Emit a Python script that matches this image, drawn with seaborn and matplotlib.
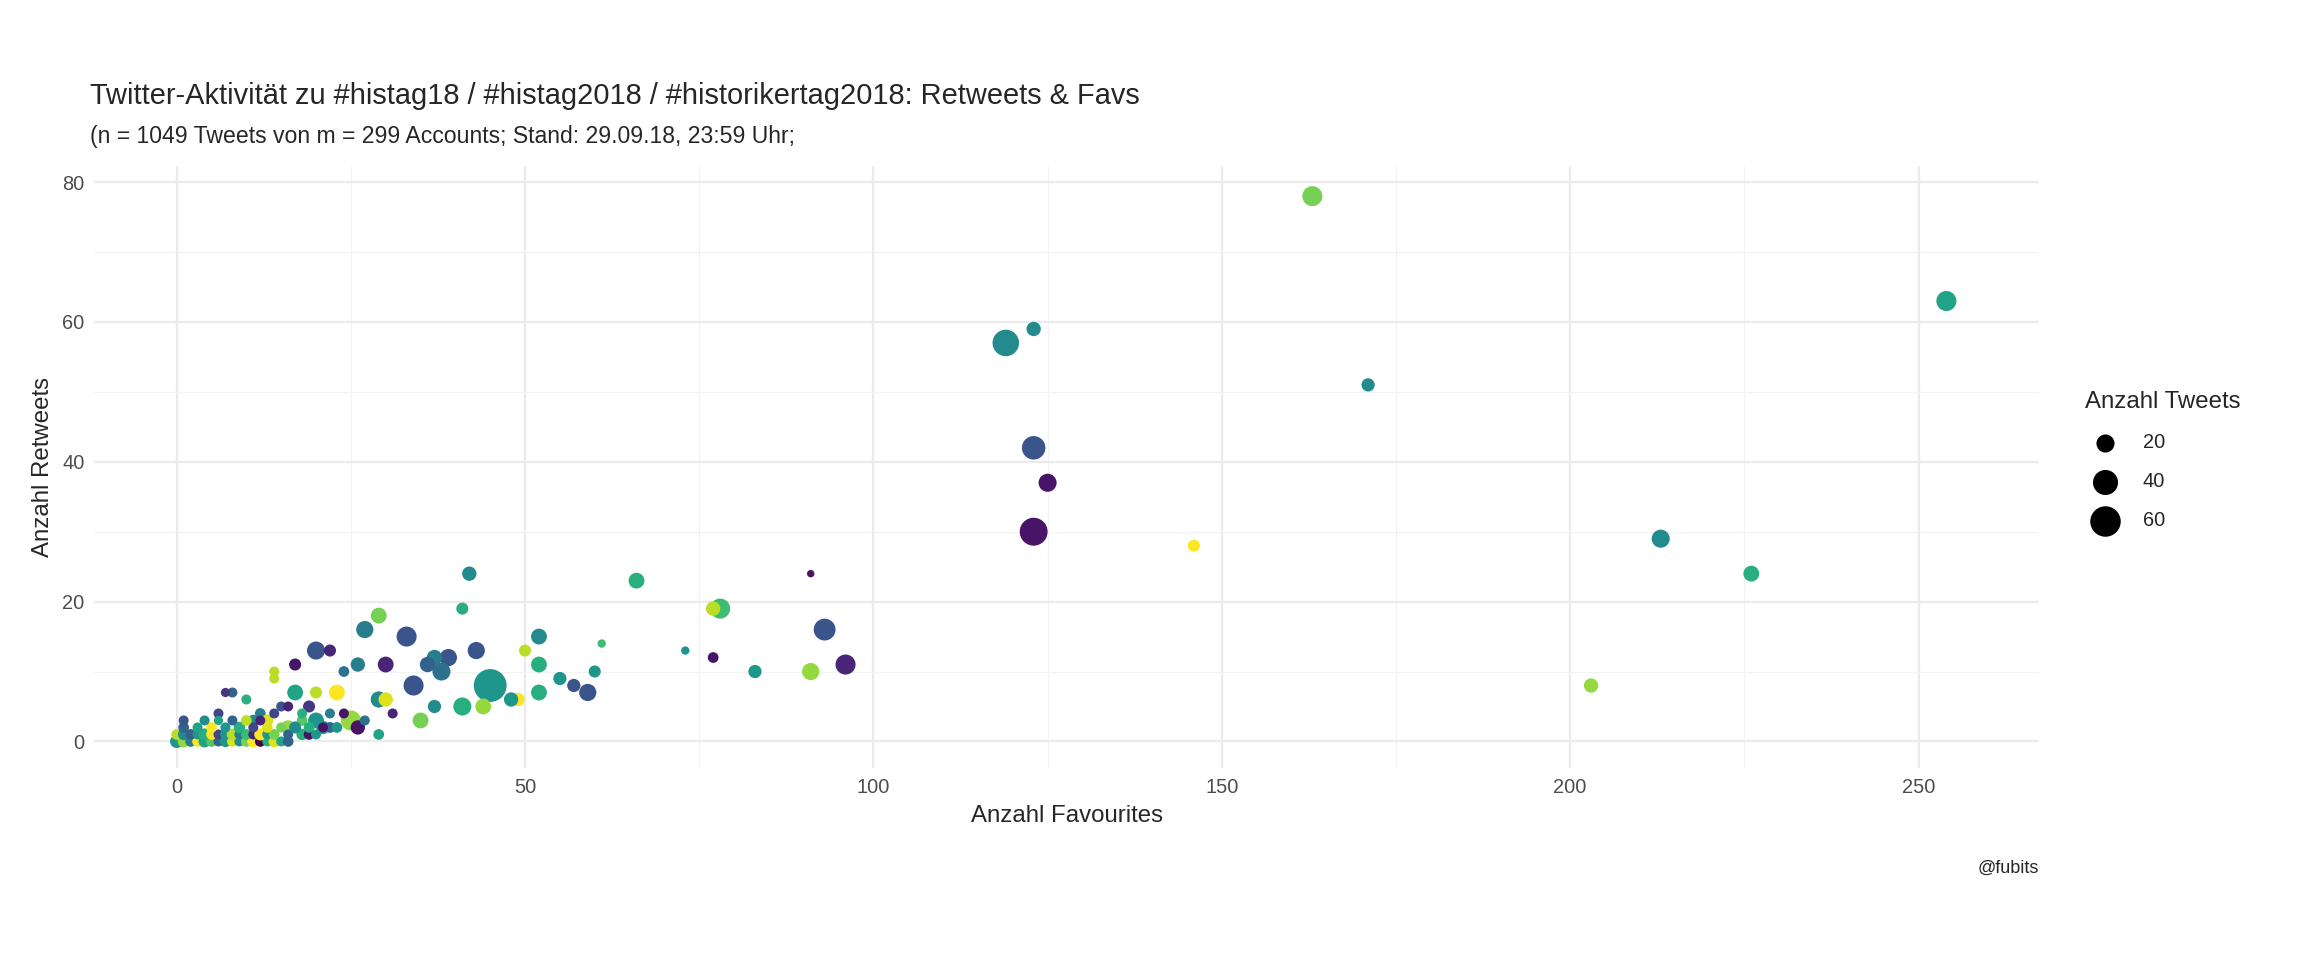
import numpy as np
import pandas as pd
import matplotlib
matplotlib.use("Agg")
import matplotlib.pyplot as plt
import seaborn as sns
from matplotlib.ticker import MultipleLocator

# favourites, retweets, tweet count, account colour (0..1 on viridis)
favs = [163, 254, 123, 119, 171, 123, 125, 123, 146, 213, 226, 203,
        91, 96, 93, 83, 77, 78, 77, 91, 73, 66, 61, 60, 59, 57, 55, 52, 52, 52,
        50, 49, 48, 45, 44, 42, 41, 41, 43, 39, 38, 37, 36, 37, 34, 33, 35, 30,
        29, 29, 27, 26, 29, 30, 25, 26, 29, 20, 22, 17, 17, 20, 23, 24, 20, 16,
        14, 14, 15, 16, 12, 10, 8, 7, 6, 13, 18, 21, 19, 9, 11, 22, 24,
        0, 1, 2, 3, 4, 5, 6, 7, 8, 9, 10, 11, 12, 13, 14, 15, 16,
        0, 1, 2, 3, 4, 5, 6, 7, 8, 9, 10, 11, 12, 13, 14, 16, 18, 19, 20,
        1, 3, 5, 7, 9, 11, 13, 15, 17, 19, 21, 23,
        1, 4, 6, 8, 10, 12, 14, 18, 22, 27, 31]
rts = [78, 63, 59, 57, 51, 42, 37, 30, 28, 29, 24, 8,
       24, 11, 16, 10, 12, 19, 19, 10, 13, 23, 14, 10, 7, 8, 9, 15, 11, 7,
       13, 6, 6, 8, 5, 24, 19, 5, 13, 12, 10, 12, 11, 5, 8, 15, 3, 11,
       18, 6, 16, 11, 6, 6, 3, 2, 1, 13, 13, 11, 7, 7, 7, 10, 3, 2,
       10, 9, 5, 5, 4, 6, 7, 7, 4, 3, 3, 2, 5, 2, 3, 2, 4,
       0, 0, 0, 0, 0, 0, 0, 0, 0, 0, 0, 0, 0, 0, 0, 0, 0,
       1, 1, 1, 1, 1, 1, 1, 1, 1, 1, 1, 1, 1, 1, 1, 1, 1, 1, 1,
       2, 2, 2, 2, 2, 2, 2, 2, 2, 2, 2, 2,
       3, 3, 3, 3, 3, 3, 4, 4, 4, 3, 4]
tweets = [25, 25, 12, 45, 10, 35, 20, 50, 8, 20, 15, 12,
          2, 25, 30, 10, 6, 25, 12, 18, 3, 15, 3, 8, 18, 10, 10, 15, 15, 15,
          8, 10, 12, 70, 15, 12, 8, 20, 18, 18, 20, 14, 14, 10, 25, 25, 15, 15,
          15, 15, 18, 12, 15, 12, 25, 12, 6, 20, 8, 8, 15, 8, 15, 6, 15, 12,
          5, 5, 5, 5, 6, 5, 5, 4, 5, 8, 6, 10, 8, 6, 7, 6, 5,
          10, 8, 6, 6, 8, 6, 5, 7, 6, 5, 6, 8, 6, 5, 7, 5, 6,
          6, 7, 6, 5, 8, 6, 5, 6, 7, 5, 6, 5, 8, 5, 6, 5, 7, 6, 5,
          6, 5, 6, 5, 7, 5, 6, 5, 8, 6, 5, 6,
          5, 5, 4, 5, 6, 5, 5, 5, 5, 5, 5]
col = [0.75, 0.55, 0.45, 0.45, 0.45, 0.25, 0.05, 0.05, 0.95, 0.45, 0.6, 0.8,
       0.05, 0.1, 0.25, 0.5, 0.05, 0.65, 0.85, 0.8, 0.5, 0.6, 0.65, 0.5, 0.25, 0.25, 0.5, 0.45, 0.6, 0.6,
       0.85, 0.95, 0.5, 0.5, 0.8, 0.45, 0.6, 0.6, 0.25, 0.25, 0.35, 0.4, 0.3, 0.45, 0.25, 0.25, 0.75, 0.1,
       0.75, 0.45, 0.4, 0.4, 0.45, 0.9, 0.8, 0.05, 0.55, 0.25, 0.1, 0.05, 0.55, 0.85, 0.95, 0.35, 0.5, 0.8,
       0.85, 0.85, 0.25, 0.1, 0.4, 0.6, 0.3, 0.15, 0.2, 0.9, 0.7, 0.5, 0.15, 0.6, 0.45, 0.3, 0.05,
       0.5, 0.8, 0.4, 0.95, 0.55, 0.7, 0.3, 0.5, 0.9, 0.45, 0.75, 0.95, 0.0, 0.6, 0.9, 0.55, 0.3,
       0.85, 0.45, 0.3, 0.5, 0.6, 0.95, 0.2, 0.5, 0.85, 0.4, 0.65, 0.1, 0.95, 0.5, 0.75, 0.3, 0.6, 0.05, 0.5,
       0.3, 0.55, 0.95, 0.5, 0.6, 0.2, 0.9, 0.75, 0.45, 0.6, 0.05, 0.5,
       0.25, 0.45, 0.55, 0.3, 0.85, 0.1, 0.2, 0.6, 0.4, 0.35, 0.1]

df = pd.DataFrame({"fav": favs, "rt": rts, "n": tweets, "c": col})

sns.set_theme(style="whitegrid")
plt.rcParams['font.family'] = ['Liberation Sans', 'DejaVu Sans']

fig = plt.figure(figsize=(16, 6.6667), dpi=144)
ax = fig.add_axes([0.041, 0.2, 0.844, 0.627])

SIZES = (10, 270)
NORM = (1, 70)
sns.scatterplot(data=df, x="fav", y="rt", hue="c", size="n", palette="viridis",
                sizes=SIZES, size_norm=NORM, linewidth=0, legend=False, ax=ax)

ax.set_xlim(-11.8, 267.3)
ax.set_ylim(-3.8, 82.3)
ax.xaxis.set_major_locator(MultipleLocator(50))
ax.xaxis.set_minor_locator(MultipleLocator(25))
ax.yaxis.set_major_locator(MultipleLocator(20))
ax.yaxis.set_minor_locator(MultipleLocator(10))
ax.grid(which="major", color="#ebebeb", lw=1.1)
ax.grid(which="minor", color="#f3f3f3", lw=0.6)
for s in ax.spines.values():
    s.set_visible(False)
ax.tick_params(labelsize=10, colors="#4d4d4d", length=0, pad=5)
ax.set_xlabel("Anzahl Favourites", fontsize=12)
ax.set_ylabel("Anzahl Retweets", fontsize=12)

fig.text(0.039, 0.9, "Twitter-Aktivität zu #histag18 / #histag2018 / #historikertag2018: Retweets & Favs",
         fontsize=14.5, va="center")
fig.text(0.039, 0.858, "(n = 1049 Tweets von m = 299 Accounts; Stand: 29.09.18, 23:59 Uhr;",
         fontsize=11.5, va="center")
fig.text(0.885, 0.095, "@fubits", fontsize=9, ha="right", va="center")

# size legend
def sz(v):
    return SIZES[0] + (v - NORM[0]) / (NORM[1] - NORM[0]) * (SIZES[1] - SIZES[0])
handles = [ax.scatter([], [], s=sz(v), color="black", lw=0) for v in (20, 40, 60)]
leg = fig.legend(handles, ["20", "40", "60"], title="Anzahl Tweets", loc="center left",
                 bbox_to_anchor=(0.897, 0.52), frameon=False, fontsize=10,
                 title_fontsize=12, labelspacing=1.0, handletextpad=0.9)
leg._legend_box.align = "left"

fig.savefig("out.png", dpi=144)
